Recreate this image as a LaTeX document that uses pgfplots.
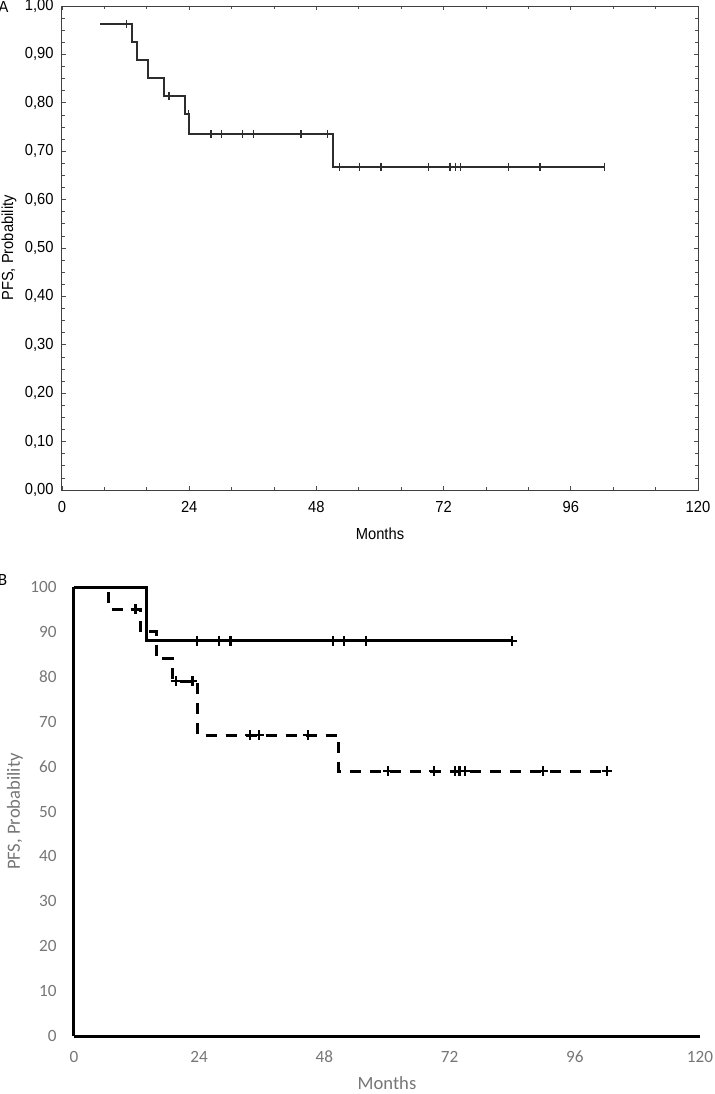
\documentclass[border=0pt]{standalone}
\usepackage{fontspec}
\setmainfont{Liberation Sans}
\newfontfamily\arialn[FakeStretch=0.92]{Liberation Sans}
\newfontfamily\calibri{Carlito}
\usepackage{pgfplots}
\pgfplotsset{compat=1.18}
\definecolor{axgray}{RGB}{118,118,118}
\definecolor{curvegray}{RGB}{45,45,45}
\begin{document}
\begin{tikzpicture}
\useasboundingbox (0,0) rectangle (357pt,-547pt);
% ---------------- Panel A ----------------
\begin{axis}[
  at={(31pt,-245pt)}, anchor=south west,
  scale only axis, width=318pt, height=242pt,
  xmin=0, xmax=120, ymin=0, ymax=1,
  xtick={0,24,48,72,96,120},
  ytick={0,0.1,0.2,0.3,0.4,0.5,0.6,0.7,0.8,0.9,1.0},
  minor x tick num=2, minor y tick num=3,
  tick align=inside, xtick pos=both, ytick pos=both,
  xticklabel pos=bottom, yticklabel pos=left,
  major tick length=2pt, minor tick length=1.3pt,
  tick style={black!70, line width=0.4pt},
  axis line style={black!75, line width=0.5pt},
  font=\arialn\fontsize{8}{9.5}\selectfont,
  /pgf/number format/assume math mode=true,
  yticklabel style={/pgf/number format/.cd, fixed, fixed zerofill, precision=2, use comma, /tikz/.cd, anchor=east, inner sep=0pt, xshift=-4pt},
  xticklabel style={anchor=center, inner sep=0pt, yshift=-8.5pt},
  xlabel={Months}, ylabel={PFS, Probability},
  xlabel style={at={(axis description cs:0.5,0)}, anchor=center, yshift=-22pt},
  ylabel style={at={(axis description cs:-0.0833,0.5)}, anchor=center},
  clip=false,
]
\addplot[const plot, color=curvegray, line width=1pt] coordinates {
  (7.17,0.963) (13.15,0.926) (14.15,0.889) (16.17,0.852) (19.19,0.815)
  (23.15,0.776) (24.0,0.735) (51.2,0.668) (102.3,0.668)};
\addplot[only marks, mark=|, mark size=2pt, mark options={line width=0.6pt, curvegray}] coordinates {
  (12.2,0.963) (20.19,0.815) (23.9,0.776)
  (28.1,0.735) (30.1,0.735) (34.1,0.735) (36.1,0.735) (45.1,0.735) (50.1,0.735)
  (52.3,0.668) (56.2,0.668) (60.2,0.668) (69.2,0.668) (73.2,0.668) (74.2,0.668)
  (75.2,0.668) (84.2,0.668) (90.2,0.668) (102.3,0.668)};
\node[font=\arialn\fontsize{8}{9.5}\selectfont] at (rel axis cs:-0.092,0.998) {A};
\end{axis}
% ---------------- Panel B ----------------
\begin{axis}[
  at={(37pt,-518pt)}, anchor=south west,
  scale only axis, width=313pt, height=224.5pt,
  xmin=0, xmax=120, ymin=0, ymax=100,
  xtick={0,24,48,72,96,120},
  ytick={0,10,20,30,40,50,60,70,80,90,100},
  axis x line=bottom, axis y line=left,
  axis line style={-, line width=1.5pt, black},
  major tick length=0pt,
  font=\calibri\fontsize{8.6}{10}\selectfont,
  /pgf/number format/assume math mode=true,
  ticklabel style={text=axgray},
  yticklabel style={anchor=east, inner sep=0pt, xshift=-8.5pt},
  xticklabel style={anchor=center, inner sep=0pt, yshift=-10.5pt},
  xlabel={Months}, ylabel={PFS, Probability},
  label style={text=axgray, font=\calibri\fontsize{9.3}{11}\selectfont},
  xlabel style={at={(axis description cs:0.5,0)}, anchor=center, yshift=-23.5pt},
  ylabel style={at={(axis description cs:-0.0944,0.5)}, anchor=center},
  clip=false,
]
\addplot[const plot, black, line width=1.5pt] coordinates {
  (0,100) (13.9,88) (84.0,88)};
\addplot[only marks, mark=+, mark size=2.5pt, mark options={line width=1.1pt, black}] coordinates {
  (23.6,88) (27.8,88) (30.0,88) (49.6,88) (51.7,88) (56.0,88) (84.0,88)};
\addplot[const plot, black, line width=1.5pt, dash pattern=on 5.5pt off 4.5pt] coordinates {
  (0,100) (6.7,95) (12.7,90) (15.8,84) (18.9,79) (23.75,67) (50.75,59) (101.8,59)};
\addplot[only marks, mark=+, mark size=2.5pt, mark options={line width=1.1pt, black, solid}] coordinates {
  (11.8,95) (19.5,79) (22.7,79) (33.8,67) (35.5,67) (44.8,67)
  (60.2,59) (69.0,59) (73.0,59) (73.9,59) (74.9,59) (89.9,59) (102.1,59)};
\node[font=\calibri\fontsize{8.6}{10}\selectfont] at (rel axis cs:-0.114,1.015) {B};
\end{axis}
\end{tikzpicture}
\end{document}
